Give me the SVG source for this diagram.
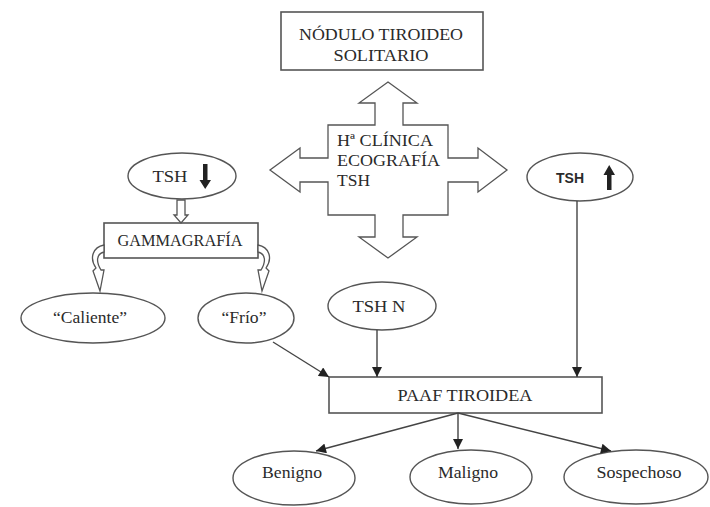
<svg xmlns="http://www.w3.org/2000/svg" width="710" height="507" viewBox="0 0 710 507">
<defs>
<style>
.box{fill:#fff;stroke:#555;stroke-width:1.6}
.ell{fill:#fff;stroke:#555;stroke-width:1.4}
.t{font-family:"Liberation Serif","Times New Roman",serif;font-size:17px;fill:#2a2a2a;text-anchor:middle}
.ts{font-family:"Liberation Sans",Arial,sans-serif;font-size:14px;font-weight:bold;fill:#2a2a2a;text-anchor:middle}
.ln{stroke:#444;stroke-width:1.4;fill:none}
.blk{fill:#222;stroke:none}
.hol{fill:#fff;stroke:#555;stroke-width:1.3}
</style>
<marker id="ah" viewBox="0 0 10 10" refX="10" refY="5" markerWidth="11" markerHeight="10" markerUnits="userSpaceOnUse" orient="auto">
<path d="M0,0 L10,5 L0,10 Z" fill="#222"/>
</marker>
</defs>
<rect width="710" height="507" fill="#fff"/>

<g id="nodulo">
<rect class="box" x="281" y="12" width="202" height="58"/>
<text class="t" x="381" y="40" textLength="164" lengthAdjust="spacingAndGlyphs">NÓDULO TIROIDEO</text>
<text class="t" x="381" y="61" textLength="95" lengthAdjust="spacingAndGlyphs">SOLITARIO</text>
</g>

<g id="cruz">
<polygon class="hol" points="388,82 417,103 403,103 403,125 448,125 448,158 478,158 478,148 507,170 478,192 478,182 448,182 448,215 403,215 403,237 417,237 388,258 359,237 375,237 375,215 328,215 328,182 300,182 300,192 270,170 300,148 300,158 328,158 328,125 375,125 375,103 359,103"/>
<text class="t" x="337" y="146" style="text-anchor:start" textLength="96" lengthAdjust="spacingAndGlyphs">Hª CLÍNICA</text>
<text class="t" x="337" y="166" style="text-anchor:start" textLength="103" lengthAdjust="spacingAndGlyphs">ECOGRAFÍA</text>
<text class="t" x="337" y="186" style="text-anchor:start" textLength="33" lengthAdjust="spacingAndGlyphs">TSH</text>
</g>

<g id="tsh-bajo">
<ellipse class="ell" cx="182" cy="176" rx="54" ry="23"/>
<text class="t" x="170" y="182" textLength="35" lengthAdjust="spacingAndGlyphs">TSH</text>
<polygon class="blk" points="203,164 207.5,164 207.5,180 211,180 205.2,189 199.5,180 203,180"/>
</g>

<g id="gammagrafia">
<rect class="box" x="104" y="223" width="154" height="35"/>
<text class="t" x="180" y="246" textLength="125" lengthAdjust="spacingAndGlyphs">GAMMAGRAFÍA</text>
</g>

<g id="caliente">
<ellipse class="ell" cx="93" cy="318" rx="72" ry="25"/>
<text class="t" x="90" y="323" textLength="74" lengthAdjust="spacingAndGlyphs">“Caliente”</text>
</g>

<g id="frio">
<ellipse class="ell" cx="246" cy="318" rx="48" ry="25"/>
<text class="t" x="244" y="323" textLength="45" lengthAdjust="spacingAndGlyphs">“Frío”</text>
</g>

<g id="tsh-normal">
<ellipse class="ell" cx="382" cy="306" rx="54" ry="24"/>
<text class="t" x="379" y="312" textLength="53" lengthAdjust="spacingAndGlyphs">TSH N</text>
</g>

<g id="tsh-alto">
<ellipse class="ell" cx="580" cy="177" rx="53" ry="24"/>
<text class="ts" x="570" y="183">TSH</text>
<polygon class="blk" points="607,190 611.5,190 611.5,175 615,175 609.2,165 603.5,175 607,175"/>
</g>

<g id="paaf">
<rect class="box" x="329" y="377" width="273" height="36"/>
<text class="t" x="465" y="401" textLength="135" lengthAdjust="spacingAndGlyphs">PAAF TIROIDEA</text>
</g>

<g id="benigno">
<ellipse class="ell" cx="294" cy="478" rx="61" ry="27"/>
<text class="t" x="292" y="478" textLength="60" lengthAdjust="spacingAndGlyphs">Benigno</text>
</g>

<g id="maligno">
<ellipse class="ell" cx="471" cy="477" rx="61" ry="27"/>
<text class="t" x="468" y="478" textLength="60" lengthAdjust="spacingAndGlyphs">Maligno</text>
</g>

<g id="sospechoso">
<ellipse class="ell" cx="636" cy="477" rx="72" ry="27"/>
<text class="t" x="639" y="478" textLength="85" lengthAdjust="spacingAndGlyphs">Sospechoso</text>
</g>

<g id="conectores">
<polygon class="hol" points="177,200 177,215 174,215 181,223 188,215 185,215 185,200"/>
<path class="hol" d="M104,245 C93,247 89,258 96,268 L93,271 L100,291 L104,270 L101,270 C96,262 96,254 104,252 Z"/>
<path class="hol" d="M258,245 C269,247 273,258 266,268 L269,271 L262,291 L258,270 L261,270 C266,262 266,254 258,252 Z"/>
<line class="ln" x1="273" y1="342" x2="329" y2="377" marker-end="url(#ah)"/>
<line class="ln" x1="377" y1="330" x2="377" y2="377" marker-end="url(#ah)"/>
<line class="ln" x1="577" y1="201" x2="577" y2="377" marker-end="url(#ah)"/>
<line class="ln" x1="458" y1="413" x2="316" y2="451" marker-end="url(#ah)"/>
<line class="ln" x1="458" y1="413" x2="458" y2="449" marker-end="url(#ah)"/>
<line class="ln" x1="458" y1="413" x2="611" y2="451" marker-end="url(#ah)"/>
</g>
</svg>
